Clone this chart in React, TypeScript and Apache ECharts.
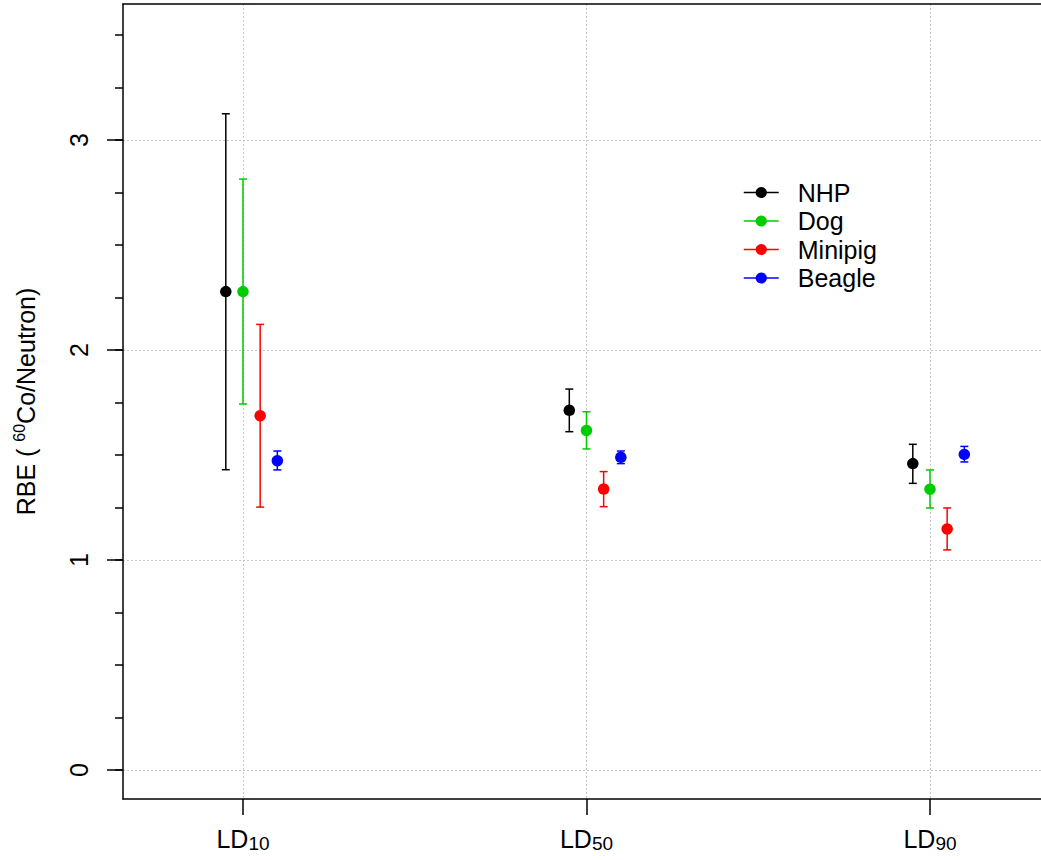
import React, { useEffect, useRef } from "react";
import * as echarts from "echarts";

// ---- data ----
const categories = ["LD10", "LD50", "LD90"];
const categorySubscripts = ["10", "50", "90"];
const groups = ["NHP", "Dog", "Minipig", "Beagle"];

const nhpMean = [2.278, 1.713, 1.459];
const nhpLow = [1.43, 1.611, 1.365];
const nhpHigh = [3.125, 1.814, 1.551];

const dogMean = [2.278, 1.617, 1.337];
const dogLow = [1.743, 1.529, 1.248];
const dogHigh = [2.814, 1.706, 1.429];

const minipigMean = [1.687, 1.338, 1.148];
const minipigLow = [1.252, 1.254, 1.048];
const minipigHigh = [2.122, 1.421, 1.248];

const beagleMean = [1.473, 1.489, 1.503];
const beagleLow = [1.429, 1.459, 1.467];
const beagleHigh = [1.519, 1.519, 1.541];

const yMajorTicks = [0, 1, 2, 3];
const yMinorTicks = [0, 0.25, 0.5, 0.75, 1, 1.25, 1.5, 1.75, 2, 2.25, 2.5, 2.75, 3, 3.25, 3.5];
const xTicks = [1, 2, 3];

// ---- styling ----
const colors = ["#000000", "#00CD00", "#FF0000", "#0000FF"];
const dodge = [-0.05, 0, 0.05, 0.1];
const FONT = "Liberation Sans, Arial, Helvetica, sans-serif";
const X_MIN = 0.6507;
const X_MAX = 3.3232;
const Y_MIN = -0.138;
const Y_MAX = 3.6476;

const means = [nhpMean, dogMean, minipigMean, beagleMean];
const lows = [nhpLow, dogLow, minipigLow, beagleLow];
const highs = [nhpHigh, dogHigh, minipigHigh, beagleHigh];

export default function App() {
  const ref = useRef<HTMLDivElement>(null);

  useEffect(() => {
    if (!ref.current) return;
    const chart = echarts.init(ref.current, undefined, { renderer: "svg" });

    const series: any[] = [];
    groups.forEach((g, gi) => {
      const color = colors[gi];
      series.push({
        type: "custom",
        name: g + " error",
        xAxisIndex: 0,
        yAxisIndex: 0,
        encode: { x: 0, y: [1, 2] },
        data: categories.map((_, ci) => [ci + 1 + dodge[gi], lows[gi][ci], highs[gi][ci]]),
        renderItem: (params: any, api: any) => {
          const x = api.value(0);
          const lo = api.coord([x, api.value(1)]);
          const hi = api.coord([x, api.value(2)]);
          const w = 4;
          const st = { stroke: color, lineWidth: 1.5 };
          return {
            type: "group",
            children: [
              { type: "line", shape: { x1: lo[0], y1: lo[1], x2: hi[0], y2: hi[1] }, style: st },
              { type: "line", shape: { x1: lo[0] - w, y1: lo[1], x2: lo[0] + w, y2: lo[1] }, style: st },
              { type: "line", shape: { x1: hi[0] - w, y1: hi[1], x2: hi[0] + w, y2: hi[1] }, style: st },
            ],
          };
        },
        z: 2,
      });
    });
    groups.forEach((g, gi) => {
      series.push({
        type: "line",
        name: g,
        color: colors[gi],
        xAxisIndex: 0,
        yAxisIndex: 0,
        data: categories.map((_, ci) => [ci + 1 + dodge[gi], means[gi][ci]]),
        symbol: "circle",
        symbolSize: 11.5,
        showSymbol: true,
        lineStyle: { color: colors[gi], width: 1.5, opacity: 0 },
        itemStyle: { color: colors[gi] },
        z: 3,
      });
    });

    const grid = { left: 123, top: 4, right: 0, bottom: 61 };

    chart.setOption({
      animation: false,
      backgroundColor: "#ffffff",
      textStyle: { fontFamily: FONT },
      grid,
      legend: {
        data: groups,
        orient: "vertical",
        left: 743,
        top: 178.5,
        padding: 0,
        itemWidth: 35,
        itemHeight: 14,
        itemGap: 0.5,
        textStyle: {
          fontSize: 25,
          lineHeight: 28,
          color: "#000",
          fontFamily: FONT,
          padding: [0, 0, 0, 14],
        },
        lineStyle: { width: 1.5, opacity: 1 },
      },
      xAxis: [
        {
          type: "value",
          min: X_MIN,
          max: X_MAX,
          position: "bottom",
          axisLine: { show: true, onZero: false, lineStyle: { color: "#000", width: 1.5 } },
          axisTick: { show: true, customValues: xTicks, length: 16, lineStyle: { color: "#000", width: 1.5 } },
          axisLabel: {
            customValues: xTicks,
            margin: 26,
            formatter: (v: number) => {
              const i = Math.round(v) - 1;
              return "{a|LD}{b|" + categorySubscripts[i] + "}";
            },
            rich: {
              a: { fontSize: 25, color: "#000", fontFamily: FONT, lineHeight: 28 },
              b: { fontSize: 19, color: "#000", fontFamily: FONT, lineHeight: 18, verticalAlign: "bottom" },
            },
          },
          splitLine: { show: true, lineStyle: { color: "#c8c8c8", width: 1, type: [2, 2] } },
        },
        {
          type: "value",
          min: X_MIN,
          max: X_MAX,
          position: "top",
          axisLine: { show: true, onZero: false, lineStyle: { color: "#000", width: 1.5 } },
          axisTick: { show: false },
          axisLabel: { show: false },
          splitLine: { show: false },
        },
      ],
      yAxis: [
        {
          type: "value",
          min: Y_MIN,
          max: Y_MAX,
          position: "left",
          axisLine: { show: true, onZero: false, lineStyle: { color: "#000", width: 1.5 } },
          axisTick: { show: true, customValues: yMajorTicks, length: 16, lineStyle: { color: "#000", width: 1.5 } },
          axisLabel: {
            customValues: yMajorTicks,
            rotate: 90,
            margin: 32,
            fontSize: 25,
            color: "#000",
            fontFamily: FONT,
          },
          splitLine: { show: true, lineStyle: { color: "#c8c8c8", width: 1, type: [2, 2] } },
          name: "{m|RBE ( }{s|60}{m|Co/Neutron)}",
          nameLocation: "middle",
          nameRotate: 90,
          nameGap: 82,
          nameTextStyle: {
            rich: {
              m: { fontSize: 25, color: "#000", fontFamily: FONT, lineHeight: 30 },
              s: { fontSize: 16, color: "#000", fontFamily: FONT, lineHeight: 30, verticalAlign: "top" },
            },
          },
        },
        {
          type: "value",
          min: Y_MIN,
          max: Y_MAX,
          position: "left",
          axisLine: { show: false },
          axisTick: { show: true, customValues: yMinorTicks, length: 8, lineStyle: { color: "#000", width: 1.5 } },
          axisLabel: { show: false },
          splitLine: { show: false },
        },
      ],
      series,
    });

    return () => chart.dispose();
  }, []);

  return (
    <div
      ref={ref}
      style={{ position: "absolute", left: 0, top: 0, width: 1041, height: 860, background: "#fff" }}
    />
  );
}
